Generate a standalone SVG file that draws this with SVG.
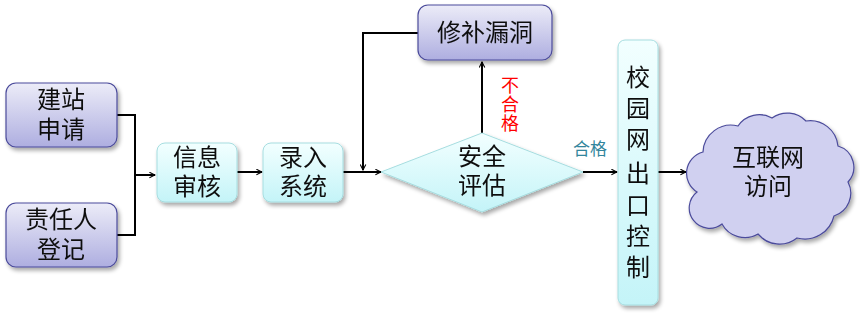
<svg xmlns="http://www.w3.org/2000/svg" width="860" height="317" viewBox="0 0 860 317">
<defs>
<linearGradient id="gp" x1="0" y1="0" x2="0" y2="1"><stop offset="0" stop-color="#ececf8"/><stop offset="1" stop-color="#aeaee0"/></linearGradient>
<linearGradient id="gc" x1="0" y1="0" x2="0" y2="1"><stop offset="0" stop-color="#f2ffff"/><stop offset="1" stop-color="#c4f4f8"/></linearGradient>
<filter id="sh" x="-20%" y="-20%" width="150%" height="150%"><feGaussianBlur in="SourceAlpha" stdDeviation="2"/><feOffset dx="2" dy="3"/><feComponentTransfer><feFuncA type="linear" slope="0.35"/></feComponentTransfer><feMerge><feMergeNode/><feMergeNode in="SourceGraphic"/></feMerge></filter>
<marker id="ar" viewBox="0 0 10 10" refX="9" refY="5" markerWidth="7" markerHeight="7" orient="auto" markerUnits="userSpaceOnUse"><path d="M1,1 L9,5 L1,9" fill="none" stroke="#000" stroke-width="1.5"/></marker>
</defs>
<style>
.p{fill:url(#gp);stroke:#4b4b9b;stroke-width:1.2}
.c{fill:url(#gc);stroke:#a6dde0;stroke-width:1}
.t{font-family:"Noto Sans CJK SC","Noto Sans",sans-serif;font-size:24px;fill:#111;text-anchor:middle}
.r{font-family:"Noto Sans CJK SC",sans-serif;font-size:18px;fill:#ff0000;text-anchor:middle}
.l{fill:none;stroke:#000;stroke-width:2}
</style>
<g id="connectors">
<path class="l" d="M117,115 H135 V235 H117"/>
<path class="l" d="M135,175 H155" marker-end="url(#ar)"/>
<path class="l" d="M237,172 H262" marker-end="url(#ar)"/>
<path class="l" d="M343,172 H381" marker-end="url(#ar)"/>
<path class="l" d="M418,33 H363 V170" marker-end="url(#ar)"/>
<path class="l" d="M482,133 V62" marker-end="url(#ar)"/>
<path class="l" d="M583,172 H617" marker-end="url(#ar)"/>
<path class="l" d="M658,172 H686" marker-end="url(#ar)"/>
<text class="r" x="510" y="92">不</text>
<text class="r" x="510" y="111">合</text>
<text class="r" x="510" y="130">格</text>
<text x="590" y="155" style="font-family:'Noto Sans CJK SC',sans-serif;font-size:17px;fill:#31859c" text-anchor="middle">合格</text>
</g>
<g id="n1" filter="url(#sh)"><rect class="p" x="6" y="83" width="111" height="64" rx="10"/><text class="t" x="61" y="108">建站</text><text class="t" x="61" y="138">申请</text></g>
<g id="n2" filter="url(#sh)"><rect class="p" x="6" y="203" width="111" height="64" rx="10"/><text class="t" x="61" y="228">责任人</text><text class="t" x="61" y="258">登记</text></g>
<g id="n3" filter="url(#sh)"><rect class="c" x="157" y="143" width="80" height="59" rx="8"/><text class="t" x="197" y="166">信息</text><text class="t" x="197" y="195">审核</text></g>
<g id="n4" filter="url(#sh)"><rect class="c" x="263" y="143" width="80" height="59" rx="8"/><text class="t" x="303" y="166">录入</text><text class="t" x="303" y="195">系统</text></g>
<g id="n5" filter="url(#sh)"><path class="c" d="M381,172 L482,133 L583,172 L482,212 Z"/><text class="t" x="482" y="165">安全</text><text class="t" x="482" y="194">评估</text></g>
<g id="n6" filter="url(#sh)"><rect class="p" x="418" y="5" width="134" height="55" rx="10"/><text class="t" x="485" y="41">修补漏洞</text></g>
<g id="n7" filter="url(#sh)"><rect class="c" x="618" y="40" width="40" height="265" rx="7"/>
<text class="t" x="638" y="86">校</text><text class="t" x="638" y="117">园</text><text class="t" x="638" y="148">网</text><text class="t" x="638" y="182">出</text><text class="t" x="638" y="214">口</text><text class="t" x="638" y="245">控</text><text class="t" x="638" y="276">制</text></g>
<g id="n8" filter="url(#sh)"><path d="M697,192 A22,22 0 0 1 703,152 A28,28 0 0 1 738,126 A26,26 0 0 1 772,118 A26,26 0 0 1 806,121 A28,28 0 0 1 838,146 A22,22 0 0 1 848,182 A24,24 0 0 1 834,216 A30,30 0 0 1 797,238 A28,28 0 0 1 758,234 A26,26 0 0 1 722,224 A20,20 0 0 1 697,192 Z" fill="#d0d0f0" stroke="#4b4b9b" stroke-width="1.2"/>
<text class="t" x="768" y="166">互联网</text><text class="t" x="768" y="195">访问</text></g>
</svg>
